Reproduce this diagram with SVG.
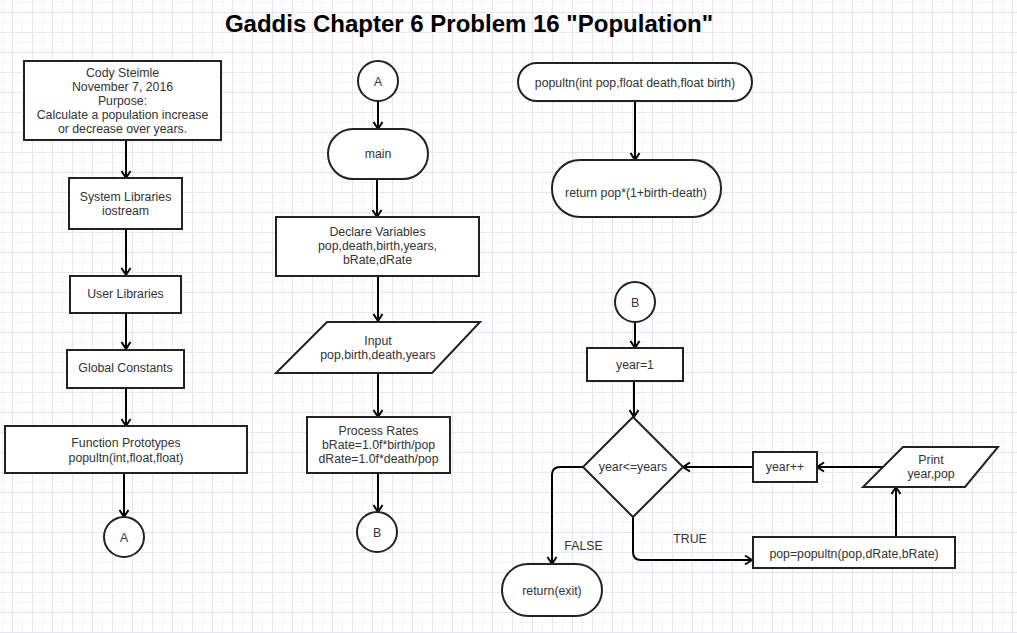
<svg xmlns="http://www.w3.org/2000/svg" width="1017" height="633" viewBox="0 0 1017 633">
<style>
.shape{fill:#fff;stroke:#222;stroke-width:2}
.lbl{font-family:"Liberation Sans",Arial,sans-serif;font-size:12.3px;fill:#333;text-anchor:middle}
.edge{fill:none;stroke:#000;stroke-width:2;marker-end:url(#arr)}
.title{font-family:"Liberation Sans",Arial,sans-serif;font-size:24px;font-weight:bold;fill:#000;text-anchor:middle}
</style>
<defs>
<pattern id="grid" patternUnits="userSpaceOnUse" x="-8" y="-8" width="20" height="20">
<path d="M10.5,0V20M0,10.5H20" stroke="#f3f3fa" stroke-width="1" fill="none"/>
<path d="M0.5,0V20M0,0.5H20" stroke="#e6e6f3" stroke-width="1" fill="none"/>
</pattern>
<marker id="arr" markerUnits="userSpaceOnUse" markerWidth="14" markerHeight="14" viewBox="-10 -7 14 14" refX="0" refY="0" orient="auto">
<path d="M-7,-4.5L0,0L-7,4.5" fill="none" stroke="#000" stroke-width="2"/>
</marker>
</defs>
<rect width="1017" height="633" fill="#fff"/>
<rect width="1017" height="633" fill="url(#grid)"/>
<text class="title" x="469" y="32">Gaddis Chapter 6 Problem 16 "Population"</text>

<g id="connectors">
<path class="edge" d="M126,140V178"/>
<path class="edge" d="M126,229V275"/>
<path class="edge" d="M126,313V349"/>
<path class="edge" d="M126,388V426"/>
<path class="edge" d="M124,473V517"/>
<path class="edge" d="M378,101V129"/>
<path class="edge" d="M377,179V217"/>
<path class="edge" d="M378,276V321"/>
<path class="edge" d="M378,373V417"/>
<path class="edge" d="M378,473V512"/>
<path class="edge" d="M635,101V160"/>
<path class="edge" d="M635,322V348"/>
<path class="edge" d="M634,381V417"/>
<path class="edge" d="M583,467H560Q552,467 552,475V564"/>
<path class="edge" d="M633,517V552Q633,560 641,560H752"/>
<path class="edge" d="M896,537V487"/>
<path class="edge" d="M883,467H817"/>
<path class="edge" d="M753,467H683"/>
<text class="lbl" x="583.5" y="549.5">FALSE</text>
<text class="lbl" x="690" y="543">TRUE</text>
</g>

<g id="header">
<rect class="shape" x="24" y="61" width="197" height="79"/>
<text class="lbl" x="122.5" y="77">Cody Steimle</text>
<text class="lbl" x="122.5" y="91">November 7, 2016</text>
<text class="lbl" x="122.5" y="105">Purpose:</text>
<text class="lbl" x="122.5" y="119">Calculate a population increase</text>
<text class="lbl" x="122.5" y="133">or decrease over years.</text>
</g>
<g id="syslib">
<rect class="shape" x="69" y="178" width="113" height="51"/>
<text class="lbl" x="125.5" y="201">System Libraries</text>
<text class="lbl" x="125.5" y="215">iostream</text>
</g>
<g id="userlib">
<rect class="shape" x="70" y="276" width="111" height="37"/>
<text class="lbl" x="125.5" y="298">User Libraries</text>
</g>
<g id="globals">
<rect class="shape" x="67" y="350" width="117" height="38"/>
<text class="lbl" x="125.5" y="372">Global Constants</text>
</g>
<g id="protos">
<rect class="shape" x="5" y="426" width="242" height="47"/>
<text class="lbl" x="126" y="447">Function Prototypes</text>
<text class="lbl" x="126" y="461.5">popultn(int,float,float)</text>
</g>
<g id="connA1">
<circle class="shape" cx="124" cy="537" r="20"/>
<text class="lbl" x="124" y="541.5">A</text>
</g>

<g id="connA2">
<circle class="shape" cx="378" cy="81" r="20"/>
<text class="lbl" x="378" y="85.5">A</text>
</g>
<g id="main">
<rect class="shape" x="328" y="129" width="100" height="50" rx="25"/>
<text class="lbl" x="378" y="158">main</text>
</g>
<g id="declare">
<rect class="shape" x="276" y="217" width="203" height="59"/>
<text class="lbl" x="377.5" y="236">Declare Variables</text>
<text class="lbl" x="377.5" y="250">pop,death,birth,years,</text>
<text class="lbl" x="377.5" y="264">bRate,dRate</text>
</g>
<g id="input">
<polygon class="shape" points="327,322 480,322 432,373 276,373"/>
<text class="lbl" x="378" y="345">Input</text>
<text class="lbl" x="378" y="358.5">pop,birth,death,years</text>
</g>
<g id="process">
<rect class="shape" x="307" y="417" width="143" height="56"/>
<text class="lbl" x="378.5" y="435">Process Rates</text>
<text class="lbl" x="378.5" y="449">bRate=1.0f*birth/pop</text>
<text class="lbl" x="378.5" y="462.5">dRate=1.0f*death/pop</text>
</g>
<g id="connB1">
<circle class="shape" cx="377" cy="532" r="20"/>
<text class="lbl" x="377" y="536.5">B</text>
</g>

<g id="funcdef">
<rect class="shape" x="518" y="63" width="234" height="38" rx="19"/>
<text class="lbl" x="635" y="86.5">popultn(int pop,float death,float birth)</text>
</g>
<g id="funcret">
<rect class="shape" x="552" y="160" width="169" height="57" rx="28"/>
<text class="lbl" x="636" y="197">return pop*(1+birth-death)</text>
</g>
<g id="connB2">
<circle class="shape" cx="635" cy="302" r="20"/>
<text class="lbl" x="635" y="306.5">B</text>
</g>
<g id="init">
<rect class="shape" x="587" y="348" width="96" height="33"/>
<text class="lbl" x="635" y="369">year=1</text>
</g>
<g id="cond">
<polygon class="shape" points="633,417 683,467 633,517 583,467"/>
<text class="lbl" x="633" y="471">year&lt;=years</text>
</g>
<g id="incr">
<rect class="shape" x="753" y="452" width="64" height="30"/>
<text class="lbl" x="785" y="471">year++</text>
</g>
<g id="print">
<polygon class="shape" points="903,447 998,447 965,487 863,487"/>
<text class="lbl" x="931" y="464">Print</text>
<text class="lbl" x="931" y="477.5">year,pop</text>
</g>
<g id="calc">
<rect class="shape" x="753" y="537" width="202" height="31"/>
<text class="lbl" x="854" y="557.5">pop=popultn(pop,dRate,bRate)</text>
</g>
<g id="exit">
<rect class="shape" x="502" y="564" width="100" height="52" rx="26"/>
<text class="lbl" x="552" y="595">return(exit)</text>
</g>
</svg>
